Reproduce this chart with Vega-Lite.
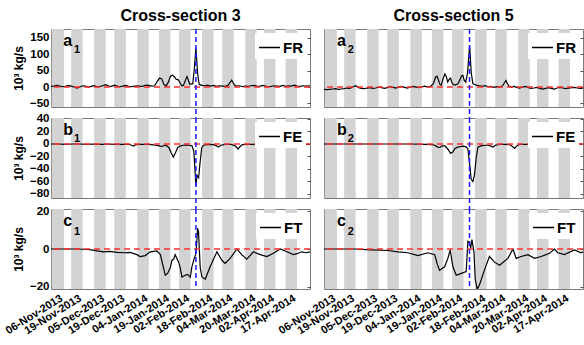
{
"$schema":"https://vega.github.io/schema/vega-lite/v6.json",
"padding":{"left":2,"top":7,"right":0,"bottom":0},
"config":{"font":"Liberation Sans","view":{"stroke":"#7a7a7a","strokeWidth":1},
 "axis":{"labelFont":"Liberation Sans","titleFont":"Liberation Sans","labelColor":"#000","titleColor":"#000","tickColor":"#555","domain":false,"grid":false,"labelFontWeight":"bold","titleFontWeight":"bold","labelOverlap":false}},
"datasets":{
"stripes":[{"s":"2013-11-01T12:00","e":"2013-11-10T00:00"},{"s":"2013-11-15T00:00","e":"2013-11-23T00:00"},{"s":"2013-12-01T00:00","e":"2013-12-09T00:00"},{"s":"2013-12-15T00:00","e":"2013-12-23T00:00"},{"s":"2013-12-31T00:00","e":"2014-01-08T00:00"},{"s":"2014-01-15T00:00","e":"2014-01-23T00:00"},{"s":"2014-01-29T00:00","e":"2014-02-06T00:00"},{"s":"2014-02-14T00:00","e":"2014-02-22T00:00"},{"s":"2014-02-28T00:00","e":"2014-03-08T00:00"},{"s":"2014-03-16T00:00","e":"2014-03-24T00:00"},{"s":"2014-03-29T00:00","e":"2014-04-06T00:00"},{"s":"2014-04-13T00:00","e":"2014-04-21T00:00"}],
"ts":[
{"p":"a1","d":"2013-11-01T00:00","v":2},{"p":"a1","d":"2013-11-03T00:00","v":3},{"p":"a1","d":"2013-11-05T00:00","v":5},{"p":"a1","d":"2013-11-07T00:00","v":3},{"p":"a1","d":"2013-11-09T00:00","v":1},{"p":"a1","d":"2013-11-11T00:00","v":2},{"p":"a1","d":"2013-11-13T00:00","v":5},{"p":"a1","d":"2013-11-15T00:00","v":3},{"p":"a1","d":"2013-11-17T00:00","v":0},{"p":"a1","d":"2013-11-19T00:00","v":-3},{"p":"a1","d":"2013-11-21T00:00","v":0},{"p":"a1","d":"2013-11-23T00:00","v":4},{"p":"a1","d":"2013-11-25T00:00","v":3},{"p":"a1","d":"2013-11-27T00:00","v":0},{"p":"a1","d":"2013-11-29T00:00","v":2},{"p":"a1","d":"2013-12-01T00:00","v":4},{"p":"a1","d":"2013-12-03T00:00","v":1},{"p":"a1","d":"2013-12-05T00:00","v":2},{"p":"a1","d":"2013-12-07T00:00","v":4},{"p":"a1","d":"2013-12-09T00:00","v":7},{"p":"a1","d":"2013-12-11T00:00","v":3},{"p":"a1","d":"2013-12-13T00:00","v":2},{"p":"a1","d":"2013-12-15T00:00","v":6},{"p":"a1","d":"2013-12-17T00:00","v":3},{"p":"a1","d":"2013-12-19T00:00","v":1},{"p":"a1","d":"2013-12-21T00:00","v":3},{"p":"a1","d":"2013-12-23T00:00","v":5},{"p":"a1","d":"2013-12-25T00:00","v":2},{"p":"a1","d":"2013-12-27T00:00","v":1},{"p":"a1","d":"2013-12-29T00:00","v":3},{"p":"a1","d":"2013-12-31T00:00","v":4},{"p":"a1","d":"2014-01-02T00:00","v":2},{"p":"a1","d":"2014-01-04T00:00","v":3},{"p":"a1","d":"2014-01-06T00:00","v":6},{"p":"a1","d":"2014-01-08T00:00","v":5},{"p":"a1","d":"2014-01-10T00:00","v":3},{"p":"a1","d":"2014-01-12T00:00","v":4},{"p":"a1","d":"2014-01-14T00:00","v":18},{"p":"a1","d":"2014-01-15T12:00","v":28},{"p":"a1","d":"2014-01-17T00:00","v":25},{"p":"a1","d":"2014-01-18T12:00","v":8},{"p":"a1","d":"2014-01-20T00:00","v":3},{"p":"a1","d":"2014-01-21T12:00","v":15},{"p":"a1","d":"2014-01-23T00:00","v":33},{"p":"a1","d":"2014-01-24T12:00","v":36},{"p":"a1","d":"2014-01-26T00:00","v":30},{"p":"a1","d":"2014-01-27T00:00","v":24},{"p":"a1","d":"2014-01-28T12:00","v":22},{"p":"a1","d":"2014-01-30T00:00","v":10},{"p":"a1","d":"2014-01-31T00:00","v":4},{"p":"a1","d":"2014-02-01T00:00","v":5},{"p":"a1","d":"2014-02-02T12:00","v":22},{"p":"a1","d":"2014-02-03T12:00","v":32},{"p":"a1","d":"2014-02-04T12:00","v":20},{"p":"a1","d":"2014-02-05T12:00","v":8},{"p":"a1","d":"2014-02-06T12:00","v":10},{"p":"a1","d":"2014-02-07T12:00","v":10},{"p":"a1","d":"2014-02-08T12:00","v":50},{"p":"a1","d":"2014-02-09T17:00","v":120},{"p":"a1","d":"2014-02-10T22:00","v":40},{"p":"a1","d":"2014-02-12T00:00","v":8},{"p":"a1","d":"2014-02-14T00:00","v":5},{"p":"a1","d":"2014-02-16T00:00","v":4},{"p":"a1","d":"2014-02-18T00:00","v":6},{"p":"a1","d":"2014-02-20T00:00","v":3},{"p":"a1","d":"2014-02-22T00:00","v":5},{"p":"a1","d":"2014-02-24T00:00","v":2},{"p":"a1","d":"2014-02-26T00:00","v":4},{"p":"a1","d":"2014-02-28T00:00","v":3},{"p":"a1","d":"2014-03-02T00:00","v":2},{"p":"a1","d":"2014-03-04T00:00","v":5},{"p":"a1","d":"2014-03-05T12:00","v":14},{"p":"a1","d":"2014-03-06T12:00","v":21},{"p":"a1","d":"2014-03-07T12:00","v":14},{"p":"a1","d":"2014-03-08T12:00","v":6},{"p":"a1","d":"2014-03-10T00:00","v":3},{"p":"a1","d":"2014-03-12T00:00","v":4},{"p":"a1","d":"2014-03-14T00:00","v":1},{"p":"a1","d":"2014-03-16T00:00","v":3},{"p":"a1","d":"2014-03-18T00:00","v":2},{"p":"a1","d":"2014-03-20T00:00","v":4},{"p":"a1","d":"2014-03-22T00:00","v":5},{"p":"a1","d":"2014-03-24T00:00","v":3},{"p":"a1","d":"2014-03-26T00:00","v":2},{"p":"a1","d":"2014-03-28T00:00","v":5},{"p":"a1","d":"2014-03-30T00:00","v":3},{"p":"a1","d":"2014-04-01T00:00","v":1},{"p":"a1","d":"2014-04-03T00:00","v":2},{"p":"a1","d":"2014-04-05T00:00","v":4},{"p":"a1","d":"2014-04-07T00:00","v":3},{"p":"a1","d":"2014-04-09T00:00","v":2},{"p":"a1","d":"2014-04-11T00:00","v":5},{"p":"a1","d":"2014-04-13T00:00","v":2},{"p":"a1","d":"2014-04-15T00:00","v":4},{"p":"a1","d":"2014-04-17T00:00","v":3},{"p":"a1","d":"2014-04-19T00:00","v":6},{"p":"a1","d":"2014-04-21T00:00","v":3},{"p":"a1","d":"2014-04-23T00:00","v":2},{"p":"a1","d":"2014-04-25T00:00","v":4},{"p":"a1","d":"2014-04-27T00:00","v":3},{"p":"a1","d":"2014-04-30T00:00","v":4},
{"p":"a2","d":"2013-11-01T00:00","v":-7},{"p":"a2","d":"2013-11-03T00:00","v":-8},{"p":"a2","d":"2013-11-05T00:00","v":-7},{"p":"a2","d":"2013-11-07T00:00","v":-6},{"p":"a2","d":"2013-11-09T00:00","v":-5},{"p":"a2","d":"2013-11-11T00:00","v":-7},{"p":"a2","d":"2013-11-13T00:00","v":-6},{"p":"a2","d":"2013-11-15T00:00","v":-5},{"p":"a2","d":"2013-11-17T00:00","v":-3},{"p":"a2","d":"2013-11-19T00:00","v":-4},{"p":"a2","d":"2013-11-21T00:00","v":0},{"p":"a2","d":"2013-11-23T00:00","v":4},{"p":"a2","d":"2013-11-25T00:00","v":-2},{"p":"a2","d":"2013-11-27T00:00","v":-4},{"p":"a2","d":"2013-11-29T00:00","v":-5},{"p":"a2","d":"2013-12-01T00:00","v":-3},{"p":"a2","d":"2013-12-03T00:00","v":-2},{"p":"a2","d":"2013-12-05T00:00","v":-4},{"p":"a2","d":"2013-12-07T00:00","v":-3},{"p":"a2","d":"2013-12-09T00:00","v":0},{"p":"a2","d":"2013-12-11T00:00","v":-2},{"p":"a2","d":"2013-12-13T00:00","v":-4},{"p":"a2","d":"2013-12-15T00:00","v":-2},{"p":"a2","d":"2013-12-17T00:00","v":1},{"p":"a2","d":"2013-12-19T00:00","v":-1},{"p":"a2","d":"2013-12-21T00:00","v":-3},{"p":"a2","d":"2013-12-23T00:00","v":0},{"p":"a2","d":"2013-12-25T00:00","v":2},{"p":"a2","d":"2013-12-27T00:00","v":-1},{"p":"a2","d":"2013-12-29T00:00","v":-3},{"p":"a2","d":"2013-12-31T00:00","v":0},{"p":"a2","d":"2014-01-02T00:00","v":2},{"p":"a2","d":"2014-01-04T00:00","v":0},{"p":"a2","d":"2014-01-06T00:00","v":-2},{"p":"a2","d":"2014-01-08T00:00","v":1},{"p":"a2","d":"2014-01-10T00:00","v":3},{"p":"a2","d":"2014-01-12T00:00","v":0},{"p":"a2","d":"2014-01-14T00:00","v":2},{"p":"a2","d":"2014-01-16T00:00","v":10},{"p":"a2","d":"2014-01-17T12:00","v":30},{"p":"a2","d":"2014-01-18T12:00","v":33},{"p":"a2","d":"2014-01-19T12:00","v":22},{"p":"a2","d":"2014-01-20T12:00","v":8},{"p":"a2","d":"2014-01-21T12:00","v":6},{"p":"a2","d":"2014-01-22T12:00","v":22},{"p":"a2","d":"2014-01-24T00:00","v":40},{"p":"a2","d":"2014-01-25T00:00","v":32},{"p":"a2","d":"2014-01-26T00:00","v":15},{"p":"a2","d":"2014-01-27T00:00","v":24},{"p":"a2","d":"2014-01-28T00:00","v":27},{"p":"a2","d":"2014-01-29T00:00","v":12},{"p":"a2","d":"2014-01-30T00:00","v":8},{"p":"a2","d":"2014-01-31T00:00","v":6},{"p":"a2","d":"2014-02-01T00:00","v":8},{"p":"a2","d":"2014-02-02T00:00","v":10},{"p":"a2","d":"2014-02-03T12:00","v":22},{"p":"a2","d":"2014-02-04T12:00","v":34},{"p":"a2","d":"2014-02-05T12:00","v":36},{"p":"a2","d":"2014-02-06T12:00","v":20},{"p":"a2","d":"2014-02-07T12:00","v":15},{"p":"a2","d":"2014-02-08T19:00","v":45},{"p":"a2","d":"2014-02-10T05:00","v":126},{"p":"a2","d":"2014-02-11T07:00","v":45},{"p":"a2","d":"2014-02-12T12:00","v":10},{"p":"a2","d":"2014-02-14T00:00","v":8},{"p":"a2","d":"2014-02-15T00:00","v":5},{"p":"a2","d":"2014-02-17T00:00","v":4},{"p":"a2","d":"2014-02-19T00:00","v":2},{"p":"a2","d":"2014-02-21T00:00","v":4},{"p":"a2","d":"2014-02-23T00:00","v":1},{"p":"a2","d":"2014-02-25T00:00","v":2},{"p":"a2","d":"2014-02-27T00:00","v":-1},{"p":"a2","d":"2014-03-01T00:00","v":1},{"p":"a2","d":"2014-03-03T00:00","v":0},{"p":"a2","d":"2014-03-05T00:00","v":3},{"p":"a2","d":"2014-03-06T12:00","v":14},{"p":"a2","d":"2014-03-07T12:00","v":20},{"p":"a2","d":"2014-03-08T12:00","v":10},{"p":"a2","d":"2014-03-09T12:00","v":3},{"p":"a2","d":"2014-03-11T00:00","v":0},{"p":"a2","d":"2014-03-13T00:00","v":2},{"p":"a2","d":"2014-03-15T00:00","v":-1},{"p":"a2","d":"2014-03-17T00:00","v":-3},{"p":"a2","d":"2014-03-19T00:00","v":0},{"p":"a2","d":"2014-03-21T00:00","v":2},{"p":"a2","d":"2014-03-23T00:00","v":-2},{"p":"a2","d":"2014-03-25T00:00","v":-4},{"p":"a2","d":"2014-03-27T00:00","v":-3},{"p":"a2","d":"2014-03-29T00:00","v":-1},{"p":"a2","d":"2014-03-31T00:00","v":-4},{"p":"a2","d":"2014-04-02T00:00","v":-6},{"p":"a2","d":"2014-04-04T00:00","v":-4},{"p":"a2","d":"2014-04-06T00:00","v":-2},{"p":"a2","d":"2014-04-08T00:00","v":-4},{"p":"a2","d":"2014-04-10T00:00","v":-6},{"p":"a2","d":"2014-04-12T00:00","v":-3},{"p":"a2","d":"2014-04-14T00:00","v":-1},{"p":"a2","d":"2014-04-16T00:00","v":-3},{"p":"a2","d":"2014-04-18T00:00","v":-5},{"p":"a2","d":"2014-04-20T00:00","v":-3},{"p":"a2","d":"2014-04-22T00:00","v":-2},{"p":"a2","d":"2014-04-24T00:00","v":-1},{"p":"a2","d":"2014-04-26T00:00","v":-3},{"p":"a2","d":"2014-04-28T00:00","v":-4},{"p":"a2","d":"2014-04-30T00:00","v":-3},
{"p":"b1","d":"2013-11-01T00:00","v":0},{"p":"b1","d":"2013-11-06T00:00","v":0},{"p":"b1","d":"2013-11-11T00:00","v":-0.5},{"p":"b1","d":"2013-11-16T00:00","v":0},{"p":"b1","d":"2013-11-21T00:00","v":0},{"p":"b1","d":"2013-11-26T00:00","v":-0.5},{"p":"b1","d":"2013-12-01T00:00","v":0},{"p":"b1","d":"2013-12-06T00:00","v":-0.5},{"p":"b1","d":"2013-12-11T00:00","v":0},{"p":"b1","d":"2013-12-16T00:00","v":-0.5},{"p":"b1","d":"2013-12-21T00:00","v":-0.5},{"p":"b1","d":"2013-12-25T00:00","v":-0.5},{"p":"b1","d":"2013-12-27T00:00","v":-2},{"p":"b1","d":"2013-12-28T12:00","v":-3.5},{"p":"b1","d":"2013-12-30T00:00","v":-1},{"p":"b1","d":"2014-01-02T00:00","v":-0.5},{"p":"b1","d":"2014-01-06T00:00","v":-0.5},{"p":"b1","d":"2014-01-10T00:00","v":-1},{"p":"b1","d":"2014-01-13T00:00","v":-2},{"p":"b1","d":"2014-01-15T00:00","v":-3},{"p":"b1","d":"2014-01-17T00:00","v":-4},{"p":"b1","d":"2014-01-19T00:00","v":-2},{"p":"b1","d":"2014-01-20T12:00","v":-3},{"p":"b1","d":"2014-01-22T00:00","v":-6},{"p":"b1","d":"2014-01-23T12:00","v":-14},{"p":"b1","d":"2014-01-25T00:00","v":-21},{"p":"b1","d":"2014-01-26T12:00","v":-14},{"p":"b1","d":"2014-01-28T00:00","v":-6},{"p":"b1","d":"2014-01-30T00:00","v":-3},{"p":"b1","d":"2014-02-01T00:00","v":-2},{"p":"b1","d":"2014-02-03T00:00","v":-1.5},{"p":"b1","d":"2014-02-05T00:00","v":-2},{"p":"b1","d":"2014-02-07T00:00","v":-3},{"p":"b1","d":"2014-02-08T07:00","v":-12},{"p":"b1","d":"2014-02-09T17:00","v":-67},{"p":"b1","d":"2014-02-10T10:00","v":-50},{"p":"b1","d":"2014-02-11T14:00","v":-54},{"p":"b1","d":"2014-02-12T14:00","v":-30},{"p":"b1","d":"2014-02-13T19:00","v":-6},{"p":"b1","d":"2014-02-15T00:00","v":-2},{"p":"b1","d":"2014-02-17T00:00","v":-1},{"p":"b1","d":"2014-02-19T00:00","v":-0.5},{"p":"b1","d":"2014-02-22T00:00","v":-1},{"p":"b1","d":"2014-02-24T00:00","v":-3},{"p":"b1","d":"2014-02-25T12:00","v":-5},{"p":"b1","d":"2014-02-27T00:00","v":-2},{"p":"b1","d":"2014-03-02T00:00","v":-0.5},{"p":"b1","d":"2014-03-06T00:00","v":-0.5},{"p":"b1","d":"2014-03-09T00:00","v":-3},{"p":"b1","d":"2014-03-11T00:00","v":-8},{"p":"b1","d":"2014-03-12T12:00","v":-4},{"p":"b1","d":"2014-03-14T00:00","v":-1},{"p":"b1","d":"2014-03-18T00:00","v":-0.5},{"p":"b1","d":"2014-03-22T00:00","v":-0.5},{"p":"b1","d":"2014-03-25T00:00","v":-1.5},{"p":"b1","d":"2014-03-26T12:00","v":-2.5},{"p":"b1","d":"2014-03-28T00:00","v":-1},{"p":"b1","d":"2014-04-01T00:00","v":-0.5},{"p":"b1","d":"2014-04-05T00:00","v":-0.5},{"p":"b1","d":"2014-04-07T00:00","v":-1.5},{"p":"b1","d":"2014-04-09T00:00","v":-3},{"p":"b1","d":"2014-04-10T12:00","v":-1},{"p":"b1","d":"2014-04-15T00:00","v":-0.5},{"p":"b1","d":"2014-04-20T00:00","v":-0.5},{"p":"b1","d":"2014-04-25T00:00","v":-0.5},{"p":"b1","d":"2014-04-30T00:00","v":-0.5},
{"p":"b2","d":"2013-11-01T00:00","v":0},{"p":"b2","d":"2013-11-11T00:00","v":0},{"p":"b2","d":"2013-11-21T00:00","v":0},{"p":"b2","d":"2013-12-01T00:00","v":0},{"p":"b2","d":"2013-12-11T00:00","v":0},{"p":"b2","d":"2013-12-21T00:00","v":0},{"p":"b2","d":"2013-12-31T00:00","v":0},{"p":"b2","d":"2014-01-10T00:00","v":-0.5},{"p":"b2","d":"2014-01-15T00:00","v":-1},{"p":"b2","d":"2014-01-17T00:00","v":-2},{"p":"b2","d":"2014-01-19T00:00","v":-5},{"p":"b2","d":"2014-01-20T12:00","v":-5.5},{"p":"b2","d":"2014-01-22T00:00","v":-3},{"p":"b2","d":"2014-01-24T00:00","v":-3},{"p":"b2","d":"2014-01-26T00:00","v":-8},{"p":"b2","d":"2014-01-28T00:00","v":-15},{"p":"b2","d":"2014-01-29T12:00","v":-13},{"p":"b2","d":"2014-01-31T00:00","v":-7},{"p":"b2","d":"2014-02-02T00:00","v":-5},{"p":"b2","d":"2014-02-04T00:00","v":-4},{"p":"b2","d":"2014-02-06T00:00","v":-3.5},{"p":"b2","d":"2014-02-08T00:00","v":-5},{"p":"b2","d":"2014-02-09T00:00","v":-8},{"p":"b2","d":"2014-02-10T05:00","v":-32},{"p":"b2","d":"2014-02-11T07:00","v":-57},{"p":"b2","d":"2014-02-12T12:00","v":-60},{"p":"b2","d":"2014-02-13T14:00","v":-49},{"p":"b2","d":"2014-02-14T19:00","v":-22},{"p":"b2","d":"2014-02-16T00:00","v":-5},{"p":"b2","d":"2014-02-18T00:00","v":-3},{"p":"b2","d":"2014-02-21T00:00","v":-2},{"p":"b2","d":"2014-02-23T00:00","v":-2},{"p":"b2","d":"2014-02-25T00:00","v":-3.5},{"p":"b2","d":"2014-02-26T12:00","v":-5},{"p":"b2","d":"2014-02-28T00:00","v":-2},{"p":"b2","d":"2014-03-03T00:00","v":-0.5},{"p":"b2","d":"2014-03-07T00:00","v":-0.5},{"p":"b2","d":"2014-03-10T00:00","v":-1},{"p":"b2","d":"2014-03-12T00:00","v":-4},{"p":"b2","d":"2014-03-13T12:00","v":-7},{"p":"b2","d":"2014-03-15T00:00","v":-3},{"p":"b2","d":"2014-03-17T00:00","v":-0.5},{"p":"b2","d":"2014-03-21T00:00","v":-0.5},{"p":"b2","d":"2014-03-31T00:00","v":0},{"p":"b2","d":"2014-04-10T00:00","v":-0.5},{"p":"b2","d":"2014-04-20T00:00","v":0},{"p":"b2","d":"2014-04-30T00:00","v":0},
{"p":"c1","d":"2013-11-01T00:00","v":0},{"p":"c1","d":"2013-11-10T00:00","v":0},{"p":"c1","d":"2013-11-19T00:00","v":0},{"p":"c1","d":"2013-11-28T00:00","v":-0.3},{"p":"c1","d":"2013-12-03T00:00","v":-1},{"p":"c1","d":"2013-12-07T14:00","v":-1.5},{"p":"c1","d":"2013-12-12T00:00","v":-1.3},{"p":"c1","d":"2013-12-17T00:00","v":-1.8},{"p":"c1","d":"2013-12-21T12:00","v":-2},{"p":"c1","d":"2013-12-26T00:00","v":-1.8},{"p":"c1","d":"2013-12-30T17:00","v":-3},{"p":"c1","d":"2014-01-02T00:00","v":-4.1},{"p":"c1","d":"2014-01-05T12:00","v":-3.5},{"p":"c1","d":"2014-01-09T00:00","v":-1.5},{"p":"c1","d":"2014-01-13T14:00","v":-1},{"p":"c1","d":"2014-01-16T00:00","v":-3},{"p":"c1","d":"2014-01-18T05:00","v":-10},{"p":"c1","d":"2014-01-19T10:00","v":-14},{"p":"c1","d":"2014-01-21T00:00","v":-13},{"p":"c1","d":"2014-01-22T22:00","v":-10},{"p":"c1","d":"2014-01-24T00:00","v":-6},{"p":"c1","d":"2014-01-25T05:00","v":-5.5},{"p":"c1","d":"2014-01-26T07:00","v":-3},{"p":"c1","d":"2014-01-28T17:00","v":-7},{"p":"c1","d":"2014-01-29T19:00","v":-10},{"p":"c1","d":"2014-01-31T00:00","v":-15},{"p":"c1","d":"2014-02-02T07:00","v":-14},{"p":"c1","d":"2014-02-03T22:00","v":-13.5},{"p":"c1","d":"2014-02-05T19:00","v":-15},{"p":"c1","d":"2014-02-06T22:00","v":-9.5},{"p":"c1","d":"2014-02-08T12:00","v":-5},{"p":"c1","d":"2014-02-09T12:00","v":-3},{"p":"c1","d":"2014-02-10T00:00","v":0},{"p":"c1","d":"2014-02-10T22:00","v":11},{"p":"c1","d":"2014-02-11T12:00","v":9.4},{"p":"c1","d":"2014-02-12T17:00","v":-10},{"p":"c1","d":"2014-02-13T22:00","v":-15},{"p":"c1","d":"2014-02-16T05:00","v":-16},{"p":"c1","d":"2014-02-19T14:00","v":-9.5},{"p":"c1","d":"2014-02-24T07:00","v":-1.5},{"p":"c1","d":"2014-02-27T18:00","v":-6},{"p":"c1","d":"2014-03-02T00:00","v":-7.7},{"p":"c1","d":"2014-03-05T12:00","v":-5},{"p":"c1","d":"2014-03-10T05:00","v":0},{"p":"c1","d":"2014-03-11T07:00","v":-1},{"p":"c1","d":"2014-03-13T14:00","v":-3},{"p":"c1","d":"2014-03-17T02:00","v":-5.4},{"p":"c1","d":"2014-03-21T17:00","v":-1.5},{"p":"c1","d":"2014-03-26T10:00","v":-3},{"p":"c1","d":"2014-03-31T00:00","v":-4},{"p":"c1","d":"2014-04-04T14:00","v":-2.3},{"p":"c1","d":"2014-04-09T07:00","v":0},{"p":"c1","d":"2014-04-14T00:00","v":-1.5},{"p":"c1","d":"2014-04-18T12:00","v":-3},{"p":"c1","d":"2014-04-21T00:00","v":-2.5},{"p":"c1","d":"2014-04-24T00:00","v":-1.5},{"p":"c1","d":"2014-04-27T00:00","v":-2},{"p":"c1","d":"2014-04-30T00:00","v":-1.5},
{"p":"c2","d":"2013-11-01T00:00","v":0},{"p":"c2","d":"2013-11-10T17:00","v":0},{"p":"c2","d":"2013-11-22T07:00","v":0},{"p":"c2","d":"2013-12-03T22:00","v":-0.5},{"p":"c2","d":"2013-12-15T10:00","v":-0.8},{"p":"c2","d":"2013-12-22T10:00","v":-1.5},{"p":"c2","d":"2013-12-29T07:00","v":-2},{"p":"c2","d":"2014-01-05T07:00","v":-3.5},{"p":"c2","d":"2014-01-12T05:00","v":-2},{"p":"c2","d":"2014-01-16T22:00","v":-3},{"p":"c2","d":"2014-01-18T17:00","v":-8},{"p":"c2","d":"2014-01-20T07:00","v":-11.4},{"p":"c2","d":"2014-01-23T19:00","v":-9.5},{"p":"c2","d":"2014-01-26T02:00","v":-5},{"p":"c2","d":"2014-01-27T17:00","v":-0.5},{"p":"c2","d":"2014-01-29T14:00","v":-9.5},{"p":"c2","d":"2014-01-31T22:00","v":-14},{"p":"c2","d":"2014-02-04T10:00","v":-13},{"p":"c2","d":"2014-02-07T19:00","v":-12},{"p":"c2","d":"2014-02-09T00:00","v":4},{"p":"c2","d":"2014-02-10T05:00","v":3},{"p":"c2","d":"2014-02-10T22:00","v":0.4},{"p":"c2","d":"2014-02-11T19:00","v":5},{"p":"c2","d":"2014-02-13T05:00","v":-1.4},{"p":"c2","d":"2014-02-14T02:00","v":-16},{"p":"c2","d":"2014-02-15T12:00","v":-21.5},{"p":"c2","d":"2014-02-17T02:00","v":-19},{"p":"c2","d":"2014-02-20T14:00","v":-11},{"p":"c2","d":"2014-02-24T00:00","v":-4},{"p":"c2","d":"2014-02-27T12:00","v":-7},{"p":"c2","d":"2014-03-03T00:00","v":-8.6},{"p":"c2","d":"2014-03-08T19:00","v":-5},{"p":"c2","d":"2014-03-12T07:00","v":0},{"p":"c2","d":"2014-03-14T14:00","v":-5},{"p":"c2","d":"2014-03-18T00:00","v":-4},{"p":"c2","d":"2014-03-22T17:00","v":-3},{"p":"c2","d":"2014-03-27T07:00","v":-5},{"p":"c2","d":"2014-03-31T22:00","v":-4},{"p":"c2","d":"2014-04-06T17:00","v":-2.3},{"p":"c2","d":"2014-04-10T05:00","v":0},{"p":"c2","d":"2014-04-12T12:00","v":-2},{"p":"c2","d":"2014-04-17T02:00","v":-3},{"p":"c2","d":"2014-04-24T00:00","v":-0.5},{"p":"c2","d":"2014-04-28T17:00","v":-2},{"p":"c2","d":"2014-04-30T00:00","v":-1.5}
]},
"columns":2,
"bounds":"flush",
"spacing":{"row":11,"column":14},
"resolve":{"scale":{"color":"independent"},"legend":{"color":"independent"}},
"concat":[
{"width":259,"height":78,
 "title":{"text":"Cross-section 3","fontSize":16,"fontWeight":"bold","font":"Liberation Sans","color":"#000","offset":4},
 "layer":[
  {"data":{"name":"stripes"},"mark":{"type":"rect","color":"#d3d3d3"},"encoding":{"x":{"field":"s","type":"temporal","scale":{"domain":[{"year":2013,"month":11,"date":1},{"year":2014,"month":4,"date":30}]},"axis":{"orient":"bottom","labels":false,"tickSize":-3,"title":null,"values":[{"year":2013,"month":11,"date":6},{"year":2013,"month":11,"date":19},{"year":2013,"month":12,"date":5},{"year":2013,"month":12,"date":19},{"year":2014,"month":1,"date":4},{"year":2014,"month":1,"date":19},{"year":2014,"month":2,"date":2},{"year":2014,"month":2,"date":18},{"year":2014,"month":3,"date":4},{"year":2014,"month":3,"date":20},{"year":2014,"month":4,"date":2},{"year":2014,"month":4,"date":17}]}},"x2":{"field":"e"}}},
  {"data":{"name":"ts"},"transform":[{"filter":"datum.p==='a1'"}],"mark":{"type":"line","strokeWidth":1.2,"clip":true},"encoding":{"x":{"field":"d","type":"temporal","axis":{"orient":"top","labels":false,"tickSize":-3,"title":null,"values":[{"year":2013,"month":11,"date":6},{"year":2013,"month":11,"date":19},{"year":2013,"month":12,"date":5},{"year":2013,"month":12,"date":19},{"year":2014,"month":1,"date":4},{"year":2014,"month":1,"date":19},{"year":2014,"month":2,"date":2},{"year":2014,"month":2,"date":18},{"year":2014,"month":3,"date":4},{"year":2014,"month":3,"date":20},{"year":2014,"month":4,"date":2},{"year":2014,"month":4,"date":17}]}},"y":{"field":"v","type":"quantitative","scale":{"domain":[-61,177.5],"nice":false,"zero":false},"axis":{"values":[-50,0,50,100,150],"title":"10³ kg/s","titleFontSize":12,"labelFontSize":11.5,"tickSize":-3,"labelPadding":5,"titlePadding":2,"minExtent":24,"maxExtent":24}},"color":{"datum":"FR","type":"nominal","scale":{"range":["#000000"]},"legend":{"title":null,"orient":"top-right","offset":4,"fillColor":"white","padding":3,"symbolType":"stroke","symbolSize":441,"symbolStrokeWidth":1.5,"labelFontSize":15,"labelFontWeight":"bold","labelFont":"Liberation Sans","labelColor":"#000","labelOffset":2}}}},
  {"data":{"values":[{}]},"mark":{"type":"rule","color":"#ff3030","strokeDash":[6,4],"strokeWidth":1.5},"encoding":{"y":{"datum":0,"type":"quantitative","axis":{"orient":"right","labels":false,"title":null,"tickSize":-3,"values":[-50,0,50,100,150]}}}},
  {"data":{"values":[{}]},"mark":{"type":"text","text":"a","fontSize":16,"fontWeight":"bold","align":"left","baseline":"alphabetic"},"encoding":{"x":{"datum":{"year":2013,"month":11,"date":9,"hours":12},"type":"temporal","axis":null},"y":{"datum":125,"type":"quantitative","axis":null}}},
  {"data":{"values":[{}]},"mark":{"type":"text","text":"1","fontSize":11,"fontWeight":"bold","align":"left","baseline":"alphabetic"},"encoding":{"x":{"datum":{"year":2013,"month":11,"date":17},"type":"temporal","axis":null},"y":{"datum":104,"type":"quantitative","axis":null}}},
  {"data":{"values":[{}]},"mark":{"type":"rule","color":"#1a1aff","strokeDash":[5,3],"strokeWidth":1.5,"clip":false},"encoding":{"x":{"datum":{"year":2014,"month":2,"date":9,"hours":17},"type":"temporal","axis":null},"y":{"datum":177.5,"type":"quantitative","axis":null},"y2":{"datum":-94.6}}}
 ],
 "resolve":{"axis":{"x":"independent","y":"independent"}}},
{"width":259,"height":78,
 "title":{"text":"Cross-section 5","fontSize":16,"fontWeight":"bold","font":"Liberation Sans","color":"#000","offset":4},
 "layer":[
  {"data":{"name":"stripes"},"mark":{"type":"rect","color":"#d3d3d3"},"encoding":{"x":{"field":"s","type":"temporal","scale":{"domain":[{"year":2013,"month":11,"date":1},{"year":2014,"month":4,"date":30}]},"axis":{"orient":"bottom","labels":false,"tickSize":-3,"title":null,"values":[{"year":2013,"month":11,"date":6},{"year":2013,"month":11,"date":19},{"year":2013,"month":12,"date":5},{"year":2013,"month":12,"date":19},{"year":2014,"month":1,"date":4},{"year":2014,"month":1,"date":19},{"year":2014,"month":2,"date":2},{"year":2014,"month":2,"date":18},{"year":2014,"month":3,"date":4},{"year":2014,"month":3,"date":20},{"year":2014,"month":4,"date":2},{"year":2014,"month":4,"date":17}]}},"x2":{"field":"e"}}},
  {"data":{"name":"ts"},"transform":[{"filter":"datum.p==='a2'"}],"mark":{"type":"line","strokeWidth":1.2,"clip":true},"encoding":{"x":{"field":"d","type":"temporal","axis":{"orient":"top","labels":false,"tickSize":-3,"title":null,"values":[{"year":2013,"month":11,"date":6},{"year":2013,"month":11,"date":19},{"year":2013,"month":12,"date":5},{"year":2013,"month":12,"date":19},{"year":2014,"month":1,"date":4},{"year":2014,"month":1,"date":19},{"year":2014,"month":2,"date":2},{"year":2014,"month":2,"date":18},{"year":2014,"month":3,"date":4},{"year":2014,"month":3,"date":20},{"year":2014,"month":4,"date":2},{"year":2014,"month":4,"date":17}]}},"y":{"field":"v","type":"quantitative","scale":{"domain":[-61,177.5],"nice":false,"zero":false},"axis":{"values":[-50,0,50,100,150],"labels":false,"title":null,"tickSize":-3}},"color":{"datum":"FR","type":"nominal","scale":{"range":["#000000"]},"legend":{"title":null,"orient":"top-right","offset":4,"fillColor":"white","padding":3,"symbolType":"stroke","symbolSize":441,"symbolStrokeWidth":1.5,"labelFontSize":15,"labelFontWeight":"bold","labelFont":"Liberation Sans","labelColor":"#000","labelOffset":2}}}},
  {"data":{"values":[{}]},"mark":{"type":"rule","color":"#ff3030","strokeDash":[6,4],"strokeWidth":1.5},"encoding":{"y":{"datum":0,"type":"quantitative","axis":{"orient":"right","labels":false,"title":null,"tickSize":-3,"values":[-50,0,50,100,150]}}}},
  {"data":{"values":[{}]},"mark":{"type":"text","text":"a","fontSize":16,"fontWeight":"bold","align":"left","baseline":"alphabetic"},"encoding":{"x":{"datum":{"year":2013,"month":11,"date":10},"type":"temporal","axis":null},"y":{"datum":125,"type":"quantitative","axis":null}}},
  {"data":{"values":[{}]},"mark":{"type":"text","text":"2","fontSize":11,"fontWeight":"bold","align":"left","baseline":"alphabetic"},"encoding":{"x":{"datum":{"year":2013,"month":11,"date":17,"hours":12},"type":"temporal","axis":null},"y":{"datum":104,"type":"quantitative","axis":null}}},
  {"data":{"values":[{}]},"mark":{"type":"rule","color":"#1a1aff","strokeDash":[5,3],"strokeWidth":1.5,"clip":false},"encoding":{"x":{"datum":{"year":2014,"month":2,"date":10,"hours":3},"type":"temporal","axis":null},"y":{"datum":177.5,"type":"quantitative","axis":null},"y2":{"datum":-94.6}}}
 ],
 "resolve":{"axis":{"x":"independent","y":"independent"}}},
{"width":259,"height":80,
 "layer":[
  {"data":{"name":"stripes"},"mark":{"type":"rect","color":"#d3d3d3"},"encoding":{"x":{"field":"s","type":"temporal","scale":{"domain":[{"year":2013,"month":11,"date":1},{"year":2014,"month":4,"date":30}]},"axis":{"orient":"bottom","labels":false,"tickSize":-3,"title":null,"values":[{"year":2013,"month":11,"date":6},{"year":2013,"month":11,"date":19},{"year":2013,"month":12,"date":5},{"year":2013,"month":12,"date":19},{"year":2014,"month":1,"date":4},{"year":2014,"month":1,"date":19},{"year":2014,"month":2,"date":2},{"year":2014,"month":2,"date":18},{"year":2014,"month":3,"date":4},{"year":2014,"month":3,"date":20},{"year":2014,"month":4,"date":2},{"year":2014,"month":4,"date":17}]}},"x2":{"field":"e"}}},
  {"data":{"name":"ts"},"transform":[{"filter":"datum.p==='b1'"}],"mark":{"type":"line","strokeWidth":1.2,"clip":true},"encoding":{"x":{"field":"d","type":"temporal","axis":{"orient":"top","labels":false,"tickSize":-3,"title":null,"values":[{"year":2013,"month":11,"date":6},{"year":2013,"month":11,"date":19},{"year":2013,"month":12,"date":5},{"year":2013,"month":12,"date":19},{"year":2014,"month":1,"date":4},{"year":2014,"month":1,"date":19},{"year":2014,"month":2,"date":2},{"year":2014,"month":2,"date":18},{"year":2014,"month":3,"date":4},{"year":2014,"month":3,"date":20},{"year":2014,"month":4,"date":2},{"year":2014,"month":4,"date":17}]}},"y":{"field":"v","type":"quantitative","scale":{"domain":[-86.5,41.6],"nice":false,"zero":false},"axis":{"values":[-80,-60,-40,-20,0,20,40],"title":"10³ kg/s","titleFontSize":12,"labelFontSize":11.5,"tickSize":-3,"labelPadding":5,"titlePadding":2,"minExtent":24,"maxExtent":24}},"color":{"datum":"FE","type":"nominal","scale":{"range":["#000000"]},"legend":{"title":null,"orient":"top-right","offset":4,"fillColor":"white","padding":3,"symbolType":"stroke","symbolSize":441,"symbolStrokeWidth":1.5,"labelFontSize":15,"labelFontWeight":"bold","labelFont":"Liberation Sans","labelColor":"#000","labelOffset":2}}}},
  {"data":{"values":[{}]},"mark":{"type":"rule","color":"#ff3030","strokeDash":[6,4],"strokeWidth":1.5},"encoding":{"y":{"datum":0,"type":"quantitative","axis":{"orient":"right","labels":false,"title":null,"tickSize":-3,"values":[-80,-60,-40,-20,0,20,40]}}}},
  {"data":{"values":[{}]},"mark":{"type":"text","text":"b","fontSize":16,"fontWeight":"bold","align":"left","baseline":"alphabetic"},"encoding":{"x":{"datum":{"year":2013,"month":11,"date":9,"hours":12},"type":"temporal","axis":null},"y":{"datum":14,"type":"quantitative","axis":null}}},
  {"data":{"values":[{}]},"mark":{"type":"text","text":"1","fontSize":11,"fontWeight":"bold","align":"left","baseline":"alphabetic"},"encoding":{"x":{"datum":{"year":2013,"month":11,"date":17},"type":"temporal","axis":null},"y":{"datum":2.5,"type":"quantitative","axis":null}}},
  {"data":{"values":[{}]},"mark":{"type":"rule","color":"#1a1aff","strokeDash":[5,3],"strokeWidth":1.5,"clip":false},"encoding":{"x":{"datum":{"year":2014,"month":2,"date":9,"hours":17},"type":"temporal","axis":null},"y":{"datum":41.6,"type":"quantitative","axis":null},"y2":{"datum":-104.1}}}
 ],
 "resolve":{"axis":{"x":"independent","y":"independent"}}},
{"width":259,"height":80,
 "layer":[
  {"data":{"name":"stripes"},"mark":{"type":"rect","color":"#d3d3d3"},"encoding":{"x":{"field":"s","type":"temporal","scale":{"domain":[{"year":2013,"month":11,"date":1},{"year":2014,"month":4,"date":30}]},"axis":{"orient":"bottom","labels":false,"tickSize":-3,"title":null,"values":[{"year":2013,"month":11,"date":6},{"year":2013,"month":11,"date":19},{"year":2013,"month":12,"date":5},{"year":2013,"month":12,"date":19},{"year":2014,"month":1,"date":4},{"year":2014,"month":1,"date":19},{"year":2014,"month":2,"date":2},{"year":2014,"month":2,"date":18},{"year":2014,"month":3,"date":4},{"year":2014,"month":3,"date":20},{"year":2014,"month":4,"date":2},{"year":2014,"month":4,"date":17}]}},"x2":{"field":"e"}}},
  {"data":{"name":"ts"},"transform":[{"filter":"datum.p==='b2'"}],"mark":{"type":"line","strokeWidth":1.2,"clip":true},"encoding":{"x":{"field":"d","type":"temporal","axis":{"orient":"top","labels":false,"tickSize":-3,"title":null,"values":[{"year":2013,"month":11,"date":6},{"year":2013,"month":11,"date":19},{"year":2013,"month":12,"date":5},{"year":2013,"month":12,"date":19},{"year":2014,"month":1,"date":4},{"year":2014,"month":1,"date":19},{"year":2014,"month":2,"date":2},{"year":2014,"month":2,"date":18},{"year":2014,"month":3,"date":4},{"year":2014,"month":3,"date":20},{"year":2014,"month":4,"date":2},{"year":2014,"month":4,"date":17}]}},"y":{"field":"v","type":"quantitative","scale":{"domain":[-86.5,41.6],"nice":false,"zero":false},"axis":{"values":[-80,-60,-40,-20,0,20,40],"labels":false,"title":null,"tickSize":-3}},"color":{"datum":"FE","type":"nominal","scale":{"range":["#000000"]},"legend":{"title":null,"orient":"top-right","offset":4,"fillColor":"white","padding":3,"symbolType":"stroke","symbolSize":441,"symbolStrokeWidth":1.5,"labelFontSize":15,"labelFontWeight":"bold","labelFont":"Liberation Sans","labelColor":"#000","labelOffset":2}}}},
  {"data":{"values":[{}]},"mark":{"type":"rule","color":"#ff3030","strokeDash":[6,4],"strokeWidth":1.5},"encoding":{"y":{"datum":0,"type":"quantitative","axis":{"orient":"right","labels":false,"title":null,"tickSize":-3,"values":[-80,-60,-40,-20,0,20,40]}}}},
  {"data":{"values":[{}]},"mark":{"type":"text","text":"b","fontSize":16,"fontWeight":"bold","align":"left","baseline":"alphabetic"},"encoding":{"x":{"datum":{"year":2013,"month":11,"date":10},"type":"temporal","axis":null},"y":{"datum":14,"type":"quantitative","axis":null}}},
  {"data":{"values":[{}]},"mark":{"type":"text","text":"2","fontSize":11,"fontWeight":"bold","align":"left","baseline":"alphabetic"},"encoding":{"x":{"datum":{"year":2013,"month":11,"date":17,"hours":12},"type":"temporal","axis":null},"y":{"datum":2.5,"type":"quantitative","axis":null}}},
  {"data":{"values":[{}]},"mark":{"type":"rule","color":"#1a1aff","strokeDash":[5,3],"strokeWidth":1.5,"clip":false},"encoding":{"x":{"datum":{"year":2014,"month":2,"date":10,"hours":3},"type":"temporal","axis":null},"y":{"datum":41.6,"type":"quantitative","axis":null},"y2":{"datum":-104.1}}}
 ],
 "resolve":{"axis":{"x":"independent","y":"independent"}}},
{"width":259,"height":80,
 "layer":[
  {"data":{"name":"stripes"},"mark":{"type":"rect","color":"#d3d3d3"},"encoding":{"x":{"field":"s","type":"temporal","scale":{"domain":[{"year":2013,"month":11,"date":1},{"year":2014,"month":4,"date":30}]},"axis":{"orient":"bottom","format":"%d-%b-%Y","labelAngle":-32,"labelFontSize":11,"labelPadding":6,"tickSize":-3,"title":null,"values":[{"year":2013,"month":11,"date":6},{"year":2013,"month":11,"date":19},{"year":2013,"month":12,"date":5},{"year":2013,"month":12,"date":19},{"year":2014,"month":1,"date":4},{"year":2014,"month":1,"date":19},{"year":2014,"month":2,"date":2},{"year":2014,"month":2,"date":18},{"year":2014,"month":3,"date":4},{"year":2014,"month":3,"date":20},{"year":2014,"month":4,"date":2},{"year":2014,"month":4,"date":17}]}},"x2":{"field":"e"}}},
  {"data":{"name":"ts"},"transform":[{"filter":"datum.p==='c1'"}],"mark":{"type":"line","strokeWidth":1.2,"clip":true},"encoding":{"x":{"field":"d","type":"temporal","axis":{"orient":"top","labels":false,"tickSize":-3,"title":null,"values":[{"year":2013,"month":11,"date":6},{"year":2013,"month":11,"date":19},{"year":2013,"month":12,"date":5},{"year":2013,"month":12,"date":19},{"year":2014,"month":1,"date":4},{"year":2014,"month":1,"date":19},{"year":2014,"month":2,"date":2},{"year":2014,"month":2,"date":18},{"year":2014,"month":3,"date":4},{"year":2014,"month":3,"date":20},{"year":2014,"month":4,"date":2},{"year":2014,"month":4,"date":17}]}},"y":{"field":"v","type":"quantitative","scale":{"domain":[-21.3,21.3],"nice":false,"zero":false},"axis":{"values":[-20,0,20],"title":"10³ kg/s","titleFontSize":12,"labelFontSize":11.5,"tickSize":-3,"labelPadding":5,"titlePadding":2,"minExtent":24,"maxExtent":24}},"color":{"datum":"FT","type":"nominal","scale":{"range":["#000000"]},"legend":{"title":null,"orient":"top-right","offset":4,"fillColor":"white","padding":3,"symbolType":"stroke","symbolSize":441,"symbolStrokeWidth":1.5,"labelFontSize":15,"labelFontWeight":"bold","labelFont":"Liberation Sans","labelColor":"#000","labelOffset":2}}}},
  {"data":{"values":[{}]},"mark":{"type":"rule","color":"#ff3030","strokeDash":[6,4],"strokeWidth":1.5},"encoding":{"y":{"datum":0,"type":"quantitative","axis":{"orient":"right","labels":false,"title":null,"tickSize":-3,"values":[-20,0,20]}}}},
  {"data":{"values":[{}]},"mark":{"type":"text","text":"c","fontSize":16,"fontWeight":"bold","align":"left","baseline":"alphabetic"},"encoding":{"x":{"datum":{"year":2013,"month":11,"date":9,"hours":12},"type":"temporal","axis":null},"y":{"datum":12,"type":"quantitative","axis":null}}},
  {"data":{"values":[{}]},"mark":{"type":"text","text":"1","fontSize":11,"fontWeight":"bold","align":"left","baseline":"alphabetic"},"encoding":{"x":{"datum":{"year":2013,"month":11,"date":17},"type":"temporal","axis":null},"y":{"datum":7.5,"type":"quantitative","axis":null}}},
  {"data":{"values":[{}]},"mark":{"type":"rule","color":"#1a1aff","strokeDash":[5,3],"strokeWidth":1.5,"clip":false},"encoding":{"x":{"datum":{"year":2014,"month":2,"date":9,"hours":17},"type":"temporal","axis":null},"y":{"datum":21.3,"type":"quantitative","axis":null},"y2":{"datum":-21.3}}}
 ],
 "resolve":{"axis":{"x":"independent","y":"independent"}}},
{"width":259,"height":80,
 "layer":[
  {"data":{"name":"stripes"},"mark":{"type":"rect","color":"#d3d3d3"},"encoding":{"x":{"field":"s","type":"temporal","scale":{"domain":[{"year":2013,"month":11,"date":1},{"year":2014,"month":4,"date":30}]},"axis":{"orient":"bottom","format":"%d-%b-%Y","labelAngle":-32,"labelFontSize":11,"labelPadding":6,"tickSize":-3,"title":null,"values":[{"year":2013,"month":11,"date":6},{"year":2013,"month":11,"date":19},{"year":2013,"month":12,"date":5},{"year":2013,"month":12,"date":19},{"year":2014,"month":1,"date":4},{"year":2014,"month":1,"date":19},{"year":2014,"month":2,"date":2},{"year":2014,"month":2,"date":18},{"year":2014,"month":3,"date":4},{"year":2014,"month":3,"date":20},{"year":2014,"month":4,"date":2},{"year":2014,"month":4,"date":17}]}},"x2":{"field":"e"}}},
  {"data":{"name":"ts"},"transform":[{"filter":"datum.p==='c2'"}],"mark":{"type":"line","strokeWidth":1.2,"clip":true},"encoding":{"x":{"field":"d","type":"temporal","axis":{"orient":"top","labels":false,"tickSize":-3,"title":null,"values":[{"year":2013,"month":11,"date":6},{"year":2013,"month":11,"date":19},{"year":2013,"month":12,"date":5},{"year":2013,"month":12,"date":19},{"year":2014,"month":1,"date":4},{"year":2014,"month":1,"date":19},{"year":2014,"month":2,"date":2},{"year":2014,"month":2,"date":18},{"year":2014,"month":3,"date":4},{"year":2014,"month":3,"date":20},{"year":2014,"month":4,"date":2},{"year":2014,"month":4,"date":17}]}},"y":{"field":"v","type":"quantitative","scale":{"domain":[-21.3,21.3],"nice":false,"zero":false},"axis":{"values":[-20,0,20],"labels":false,"title":null,"tickSize":-3}},"color":{"datum":"FT","type":"nominal","scale":{"range":["#000000"]},"legend":{"title":null,"orient":"top-right","offset":4,"fillColor":"white","padding":3,"symbolType":"stroke","symbolSize":441,"symbolStrokeWidth":1.5,"labelFontSize":15,"labelFontWeight":"bold","labelFont":"Liberation Sans","labelColor":"#000","labelOffset":2}}}},
  {"data":{"values":[{}]},"mark":{"type":"rule","color":"#ff3030","strokeDash":[6,4],"strokeWidth":1.5},"encoding":{"y":{"datum":0,"type":"quantitative","axis":{"orient":"right","labels":false,"title":null,"tickSize":-3,"values":[-20,0,20]}}}},
  {"data":{"values":[{}]},"mark":{"type":"text","text":"c","fontSize":16,"fontWeight":"bold","align":"left","baseline":"alphabetic"},"encoding":{"x":{"datum":{"year":2013,"month":11,"date":10},"type":"temporal","axis":null},"y":{"datum":12,"type":"quantitative","axis":null}}},
  {"data":{"values":[{}]},"mark":{"type":"text","text":"2","fontSize":11,"fontWeight":"bold","align":"left","baseline":"alphabetic"},"encoding":{"x":{"datum":{"year":2013,"month":11,"date":17,"hours":12},"type":"temporal","axis":null},"y":{"datum":7.5,"type":"quantitative","axis":null}}},
  {"data":{"values":[{}]},"mark":{"type":"rule","color":"#1a1aff","strokeDash":[5,3],"strokeWidth":1.5,"clip":false},"encoding":{"x":{"datum":{"year":2014,"month":2,"date":10,"hours":3},"type":"temporal","axis":null},"y":{"datum":21.3,"type":"quantitative","axis":null},"y2":{"datum":-21.3}}}
 ],
 "resolve":{"axis":{"x":"independent","y":"independent"}}}
]}
